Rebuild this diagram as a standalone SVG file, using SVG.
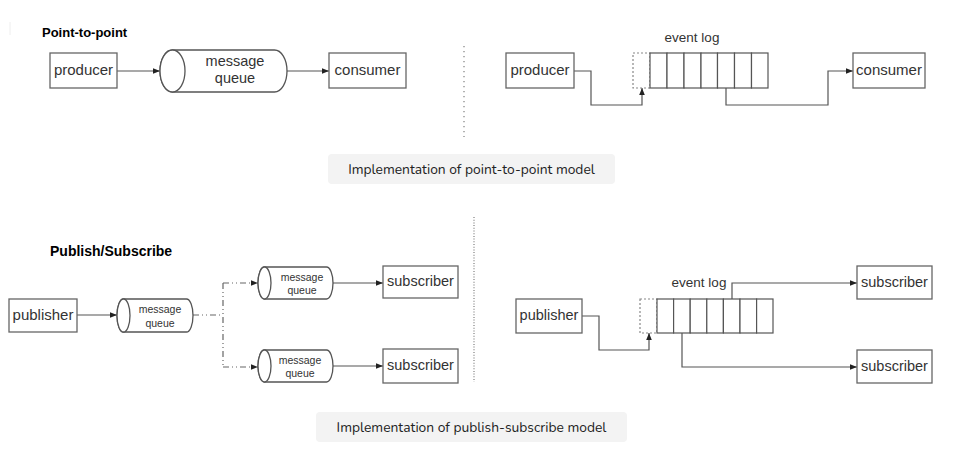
<svg xmlns="http://www.w3.org/2000/svg" width="953" height="452" viewBox="0 0 953 452">
<defs>
<marker id="ah" viewBox="0 0 10 10" refX="10" refY="5" markerWidth="7" markerHeight="7" markerUnits="userSpaceOnUse" orient="auto">
<path d="M0,1 L10,5 L0,9 z" fill="#222"/>
</marker>
<style>
.box{fill:#fff;stroke:#666;stroke-width:1.3}
.cyl{fill:#fff;stroke:#555;stroke-width:1.3}
.cell{fill:#fff;stroke:#555;stroke-width:1.2}
.dcell{fill:#fff;stroke:#888;stroke-width:1.2;stroke-dasharray:2 2}
.conn{fill:none;stroke:#555;stroke-width:1.2}
.dd{fill:none;stroke:#666;stroke-width:1.2;stroke-dasharray:6 3 1 3 1 3}
.t{font-family:"Liberation Sans",Arial,sans-serif;fill:#333;text-anchor:middle}
.h{font-family:"Liberation Sans",Arial,sans-serif;font-weight:bold;fill:#000}
.cap{fill:#f3f3f3}
.ct{font-family:"Nunito","Open Sans",sans-serif;font-size:13.8px;fill:#222;text-anchor:middle}
.div{stroke:#888;stroke-width:1.3;fill:none}
</style>
</defs>
<rect width="953" height="452" fill="#fff"/>
<line x1="10" y1="22" x2="10" y2="35" stroke="#eee" stroke-width="1"/>

<!-- titles -->
<text class="h" x="42" y="37" font-size="13">Point-to-point</text>
<text class="h" x="50" y="256" font-size="14">Publish/Subscribe</text>

<!-- dividers -->
<line class="div" x1="464" y1="46" x2="464" y2="137" stroke-dasharray="1.3 3.7"/>
<line class="div" x1="474" y1="217" x2="474" y2="382" stroke-dasharray="1 1.7"/>

<!-- connectors -->
<g id="connectors">
<path class="conn" d="M117,71 H160" marker-end="url(#ah)"/>
<path class="conn" d="M287,71 H329" marker-end="url(#ah)"/>
<path class="conn" d="M574,71 H591 V105 H642 V88" marker-end="url(#ah)"/>
<path class="conn" d="M726,88 V105 H828 V71 H853" marker-end="url(#ah)"/>

<path class="conn" d="M77,315 H117" marker-end="url(#ah)"/>
<path class="dd" d="M193,315 H223"/>
<path class="dd" d="M223,283 V367"/>
<path class="dd" d="M223,283 H258" marker-end="url(#ah)"/>
<path class="dd" d="M223,367 H258" marker-end="url(#ah)"/>
<path class="conn" d="M333,283 H383" marker-end="url(#ah)"/>
<path class="conn" d="M333,366 H383" marker-end="url(#ah)"/>

<path class="conn" d="M582,316 H599 V350 H649 V333" marker-end="url(#ah)"/>
<path class="conn" d="M732,299 V283 H857" marker-end="url(#ah)"/>
<path class="conn" d="M682,333 V367 H857" marker-end="url(#ah)"/>
</g>

<!-- top-left -->
<g id="producer1"><rect class="box" x="50" y="53" width="67" height="35"/><text class="t" x="83.5" y="74.5" font-size="15">producer</text></g>
<g id="queue1">
<path class="cyl" d="M172.5,50 H274.5 A12.5,21 0 0 1 274.5,92 H172.5 A12.5,21 0 0 1 172.5,50 Z"/>
<ellipse class="cyl" cx="172.5" cy="71" rx="12.5" ry="21"/>
<text class="t" x="235" y="65.5" font-size="14.5">message</text>
<text class="t" x="235" y="83" font-size="14.5">queue</text>
</g>
<g id="consumer1"><rect class="box" x="329" y="53" width="77" height="35"/><text class="t" x="367.5" y="74.5" font-size="15">consumer</text></g>

<!-- top-right -->
<g id="producer2"><rect class="box" x="506" y="53" width="68" height="35"/><text class="t" x="540" y="74.5" font-size="15">producer</text></g>
<g id="eventlog1">
<text class="t" x="692" y="42" font-size="13.5">event log</text>
<rect class="dcell" x="633" y="53" width="17" height="35"/>
<rect class="cell" x="650" y="53" width="17" height="35"/>
<rect class="cell" x="667" y="53" width="17" height="35"/>
<rect class="cell" x="684" y="53" width="17" height="35"/>
<rect class="cell" x="701" y="53" width="16.5" height="35"/>
<rect class="cell" x="717.5" y="53" width="17" height="35"/>
<rect class="cell" x="734.5" y="53" width="17" height="35"/>
<rect class="cell" x="751.5" y="53" width="16.5" height="35"/>
</g>
<g id="consumer2"><rect class="box" x="853" y="53" width="72" height="35"/><text class="t" x="889" y="74.5" font-size="15">consumer</text></g>

<!-- caption 1 -->
<g id="caption1"><rect class="cap" x="328" y="154" width="287" height="30" rx="4"/><text class="ct" x="471.5" y="174">Implementation of point-to-point model</text></g>

<!-- bottom-left -->
<g id="publisher1"><rect class="box" x="9" y="299" width="68" height="33"/><text class="t" x="43" y="320" font-size="15">publisher</text></g>
<g id="queue2">
<path class="cyl" d="M123.5,299 H186.5 A6.5,16.5 0 0 1 186.5,332 H123.5 A6.5,16.5 0 0 1 123.5,299 Z"/>
<ellipse class="cyl" cx="123.5" cy="315.5" rx="6.5" ry="16.5"/>
<text class="t" x="160" y="313" font-size="10.5">message</text>
<text class="t" x="160" y="327" font-size="10.5">queue</text>
</g>
<g id="queue3">
<path class="cyl" d="M264.5,267 H326.5 A6.5,16 0 0 1 326.5,299 H264.5 A6.5,16 0 0 1 264.5,267 Z"/>
<ellipse class="cyl" cx="264.5" cy="283" rx="6.5" ry="16"/>
<text class="t" x="302" y="281" font-size="10.5">message</text>
<text class="t" x="302" y="294" font-size="10.5">queue</text>
</g>
<g id="queue4">
<path class="cyl" d="M264.5,350 H326.5 A6.5,16 0 0 1 326.5,382 H264.5 A6.5,16 0 0 1 264.5,350 Z"/>
<ellipse class="cyl" cx="264.5" cy="366" rx="6.5" ry="16"/>
<text class="t" x="300" y="364" font-size="10.5">message</text>
<text class="t" x="300" y="377" font-size="10.5">queue</text>
</g>
<g id="subscriber1"><rect class="box" x="383" y="266" width="75" height="32"/><text class="t" x="420.5" y="286" font-size="14.5">subscriber</text></g>
<g id="subscriber2"><rect class="box" x="383" y="349" width="75" height="34"/><text class="t" x="420.5" y="370" font-size="14.5">subscriber</text></g>

<!-- bottom-right -->
<g id="publisher2"><rect class="box" x="516" y="299" width="66" height="34"/><text class="t" x="549" y="320" font-size="14.5">publisher</text></g>
<g id="eventlog2">
<text class="t" x="699" y="287" font-size="13.5">event log</text>
<rect class="dcell" x="640" y="299" width="17" height="34"/>
<rect class="cell" x="657" y="299" width="16.6" height="34"/>
<rect class="cell" x="673.6" y="299" width="16.6" height="34"/>
<rect class="cell" x="690.2" y="299" width="16.6" height="34"/>
<rect class="cell" x="706.8" y="299" width="16.6" height="34"/>
<rect class="cell" x="723.4" y="299" width="16.6" height="34"/>
<rect class="cell" x="740" y="299" width="16.6" height="34"/>
<rect class="cell" x="756.6" y="299" width="16.4" height="34"/>
</g>
<g id="subscriber3"><rect class="box" x="857" y="266" width="75" height="33"/><text class="t" x="894.5" y="286.5" font-size="14.5">subscriber</text></g>
<g id="subscriber4"><rect class="box" x="857" y="350" width="75" height="33"/><text class="t" x="894.5" y="370.5" font-size="14.5">subscriber</text></g>

<!-- caption 2 -->
<g id="caption2"><rect class="cap" x="316" y="412" width="311" height="30" rx="4"/><text class="ct" x="471.5" y="432">Implementation of publish-subscribe model</text></g>
</svg>
